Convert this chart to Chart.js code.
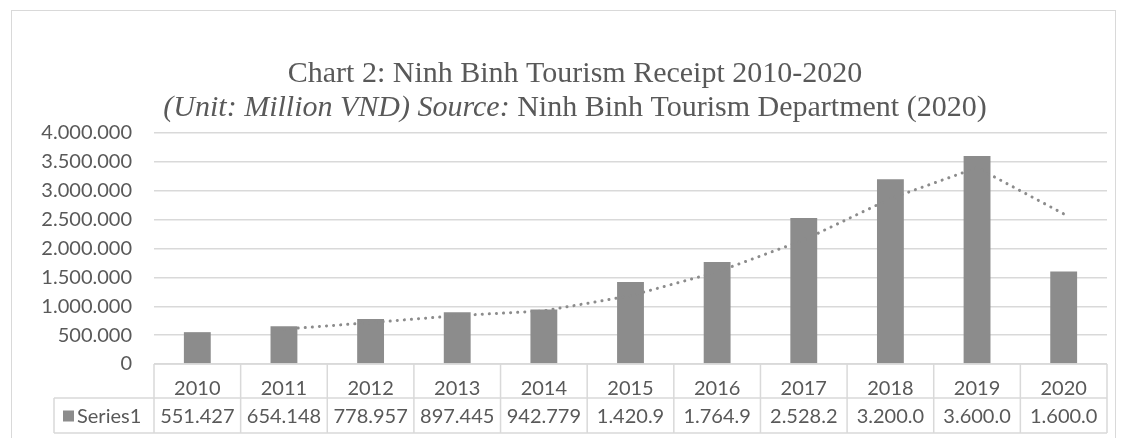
<!DOCTYPE html>
<html>
<head>
<meta charset="utf-8">
<script src="https://cdn.jsdelivr.net/npm/chart.js@4.4.0/dist/chart.umd.min.js"></script>
<style>
  html, body { margin: 0; padding: 0; background: #fff; overflow: hidden; }
  #box { position: absolute; left: 11px; top: 10px; width: 1105px; height: 432px;
         border: 1px solid #d9d9d9; box-sizing: border-box; }
</style>
</head>
<body>
<div id="box"><canvas id="myChart"></canvas></div>
<script>
const years = ['2010', '2011', '2012', '2013', '2014', '2015', '2016', '2017', '2018', '2019', '2020'];
const receipts = [551427, 654148, 778957, 897445, 942779, 1420900, 1764900, 2528200, 3200000, 3600000, 1600000];
// 2-period moving average trendline
const trend = [null, 603000, 717000, 838000, 920000, 1182000, 1593000, 2147000, 2864000, 3400000, 2600000];
const yTicks = [0, 500000, 1000000, 1500000, 2000000, 2500000, 3000000, 3500000, 4000000];
const seriesName = 'Series1';
const titleLine1 = 'Chart 2: Ninh Binh Tourism Receipt 2010-2020';
const titleItalic = '(Unit: Million VND) Source:';
const titlePlain = ' Ninh Binh Tourism Department (2020)';

const gray = '#595959';
const lineGray = '#d9d9d9';
const barGray = '#8c8c8c';
const tickFont = 'Lato';
const tickSize = 20;

function fmt(v){
    return v.toLocaleString('de-DE').slice(0, 7);
}

const titlePlugin = {
    id: 'titlePlugin',
    afterDraw(chart){
        const ctx = chart.ctx;
        const cx = 563;
        ctx.save();
        ctx.fillStyle = gray;
        ctx.textBaseline = 'middle';
        ctx.textAlign = 'center';
        ctx.font = '30px "Liberation Serif"';
        ctx.fillText(titleLine1, cx, 63);
        ctx.font = 'italic 30px "Liberation Serif"';
        const w1 = ctx.measureText(titleItalic).width;
        ctx.font = '30px "Liberation Serif"';
        const w2 = ctx.measureText(titlePlain).width;
        let x = cx - (w1 + w2) / 2;
        ctx.textAlign = 'left';
        ctx.font = 'italic 30px "Liberation Serif"';
        ctx.fillText(titleItalic, x, 97);
        ctx.font = '30px "Liberation Serif"';
        ctx.fillText(titlePlain, x + w1, 97);
        ctx.restore();
    }
};

const tablePlugin = {
    id: 'tablePlugin',
    afterDraw(chart){
        const ctx = chart.ctx;
        const xs = chart.scales.x;
        const area = chart.chartArea;
        const step = (area.right - area.left) / years.length;
        const top = area.bottom;
        const mid = top + 34;
        const bot = mid + 35;
        const labelLeft = area.left - 100;
        ctx.save();
        ctx.strokeStyle = lineGray;
        ctx.lineWidth = 1.5;
        ctx.beginPath();
        ctx.moveTo(area.left, top); ctx.lineTo(area.right, top);
        ctx.moveTo(labelLeft, mid); ctx.lineTo(area.right, mid);
        ctx.moveTo(labelLeft, bot); ctx.lineTo(area.right, bot);
        ctx.moveTo(labelLeft, mid); ctx.lineTo(labelLeft, bot);
        for (let i = 0; i <= years.length; i++) {
            const x = area.left + i * step;
            ctx.moveTo(x, top); ctx.lineTo(x, bot);
        }
        ctx.stroke();

        ctx.fillStyle = gray;
        ctx.font = tickSize + 'px ' + tickFont;
        ctx.textBaseline = 'middle';
        ctx.textAlign = 'center';
        receipts.forEach((v, i) => {
            ctx.fillText(fmt(v), xs.getPixelForValue(i), (mid + bot) / 2 + 1);
        });
        ctx.fillStyle = barGray;
        ctx.fillRect(labelLeft + 9, (mid + bot) / 2 - 5, 11, 11);
        ctx.fillStyle = gray;
        ctx.textAlign = 'left';
        ctx.fillText(seriesName, labelLeft + 23, (mid + bot) / 2 + 1);
        ctx.restore();
    }
};

function getChart(){
    const ctx = document.getElementById('myChart');

    new Chart(ctx, {
        type: 'bar',
        data: {
            labels: years,
            datasets: [{
                type: 'line',
                label: 'Trend',
                data: trend,
                borderColor: barGray,
                borderWidth: 3,
                borderDash: [0.1, 7],
                borderCapStyle: 'round',
                pointRadius: 0,
                fill: false,
                spanGaps: false,
                order: 0
            }, {
                label: seriesName,
                data: receipts,
                backgroundColor: barGray,
                barPercentage: 0.62,
                categoryPercentage: 0.5,
                order: 1
            }]
        },
        options: {
            responsive: true,
            maintainAspectRatio: false,
            animation: false,
            layout: { padding: { top: 122, right: 8, bottom: 7, left: 0 } },
            plugins: {
                legend: { display: false },
                title: { display: false },
                tooltip: { enabled: false }
            },
            scales: {
                x: {
                    grid: { display: false },
                    border: { display: false },
                    ticks: {
                        color: gray,
                        font: { family: tickFont, size: tickSize },
                        padding: 5,
                        maxRotation: 0
                    },
                    afterFit(scale){ scale.height = 70; }
                },
                y: {
                    min: 0,
                    max: 4000000,
                    afterBuildTicks(scale){ scale.ticks = yTicks.map(v => ({ value: v })); },
                    grid: { color: lineGray, lineWidth: 1.5, drawTicks: false },
                    border: { display: false },
                    ticks: {
                        color: gray,
                        font: { family: tickFont, size: tickSize },
                        padding: 22,
                        callback: (v) => v.toLocaleString('de-DE')
                    },
                    afterFit(scale){ scale.width = 142; }
                }
            }
        },
        plugins: [titlePlugin, tablePlugin]
    });
}

document.addEventListener('DOMContentLoaded', (event) => {
    getChart();
});
</script>
</body>
</html>
